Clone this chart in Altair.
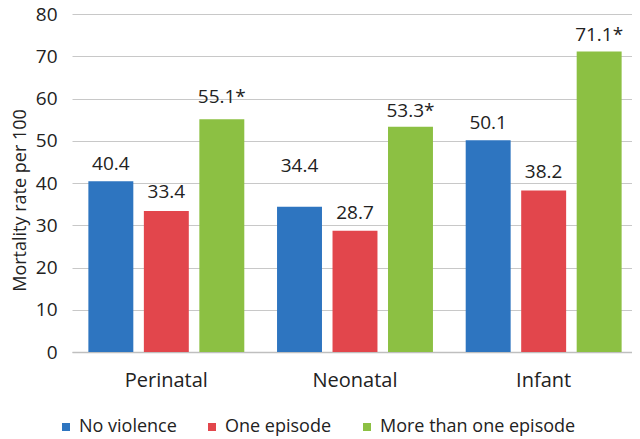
import altair as alt
import pandas as pd

categories = ["Perinatal", "Neonatal", "Infant"]
groups = ["No violence", "One episode", "More than one episode"]
colors = ["#2E75C0", "#E2464C", "#8CC043"]

no_violence = [40.4, 34.4, 50.1]
one_episode = [33.4, 28.7, 38.2]
more_than_one = [55.1, 53.3, 71.1]
significant = [
    [False, False, False],
    [False, False, False],
    [True, True, True],
]
# heights (in data units) where the value labels sit
label_y = [
    [44.4, 44.1, 54.3],
    [37.8, 33.0, 42.5],
    [60.4, 57.1, 75.0],
]

series = [no_violence, one_episode, more_than_one]
rows = []
for gi, g in enumerate(groups):
    for ci, c in enumerate(categories):
        v = series[gi][ci]
        rows.append({
            "category": c,
            "group": g,
            "value": v,
            "label": f"{v:.1f}" + ("*" if significant[gi][ci] else ""),
            "label_y": label_y[gi][ci],
        })
df = pd.DataFrame(rows)

ytitle = "Mortality rate per 100"

x_enc = alt.X(
    "category:N",
    sort=categories,
    scale=alt.Scale(range=[0, 566], paddingInner=0, paddingOuter=0),
    axis=alt.Axis(
        title=None, labelAngle=0, labelFontSize=20, labelPadding=28,
        labelBaseline="middle", ticks=False, domainColor="#BFBFBF",
        domainWidth=1.5, grid=False, labelColor="#222222",
    ),
)
xoff_enc = alt.XOffset(
    "group:N", sort=groups,
    scale=alt.Scale(paddingInner=0.19, paddingOuter=0.295),
)

bars = alt.Chart(df).mark_bar().encode(
    x=x_enc,
    xOffset=xoff_enc,
    y=alt.Y(
        "value:Q",
        title=ytitle,
        scale=alt.Scale(domain=[0, 80], nice=False),
        axis=alt.Axis(
            values=list(range(0, 81, 10)), domain=False, ticks=False,
            labelPadding=15, labelFontSize=19, labelColor="#222222",
            gridColor="#C8C8C8", gridWidth=1,
            titleFontSize=18, titleFontWeight="normal", titleColor="#222222",
            titleX=-52, titleY=186, titleAlign="center", titleBaseline="middle",
        ),
    ),
    color=alt.Color(
        "group:N", sort=groups,
        scale=alt.Scale(domain=groups, range=colors),
        legend=alt.Legend(
            title=None, orient="none", legendX=-15, legendY=404,
            direction="horizontal", symbolType="square", symbolSize=64,
            symbolStrokeWidth=0, labelFontSize=18, labelOffset=4,
            labelLimit=400, columnPadding=26, padding=0, labelColor="#222222",
        ),
    ),
)

labels = alt.Chart(df).mark_text(fontSize=19, baseline="middle", color="#222222").encode(
    x=x_enc,
    xOffset=xoff_enc,
    y=alt.Y("label_y:Q", title=ytitle),
    text="label:N",
)

chart = (
    alt.layer(bars, labels)
    .properties(
        width=560, height=338,
        autosize=alt.AutoSizeParams(type="none"),
        padding={"left": 64, "top": 6, "right": 0, "bottom": 87},
    )
    .configure(font="Open Sans")
    .configure_view(stroke=None)
)

chart.save("out.html", embed_options={"renderer": "svg", "actions": False})
